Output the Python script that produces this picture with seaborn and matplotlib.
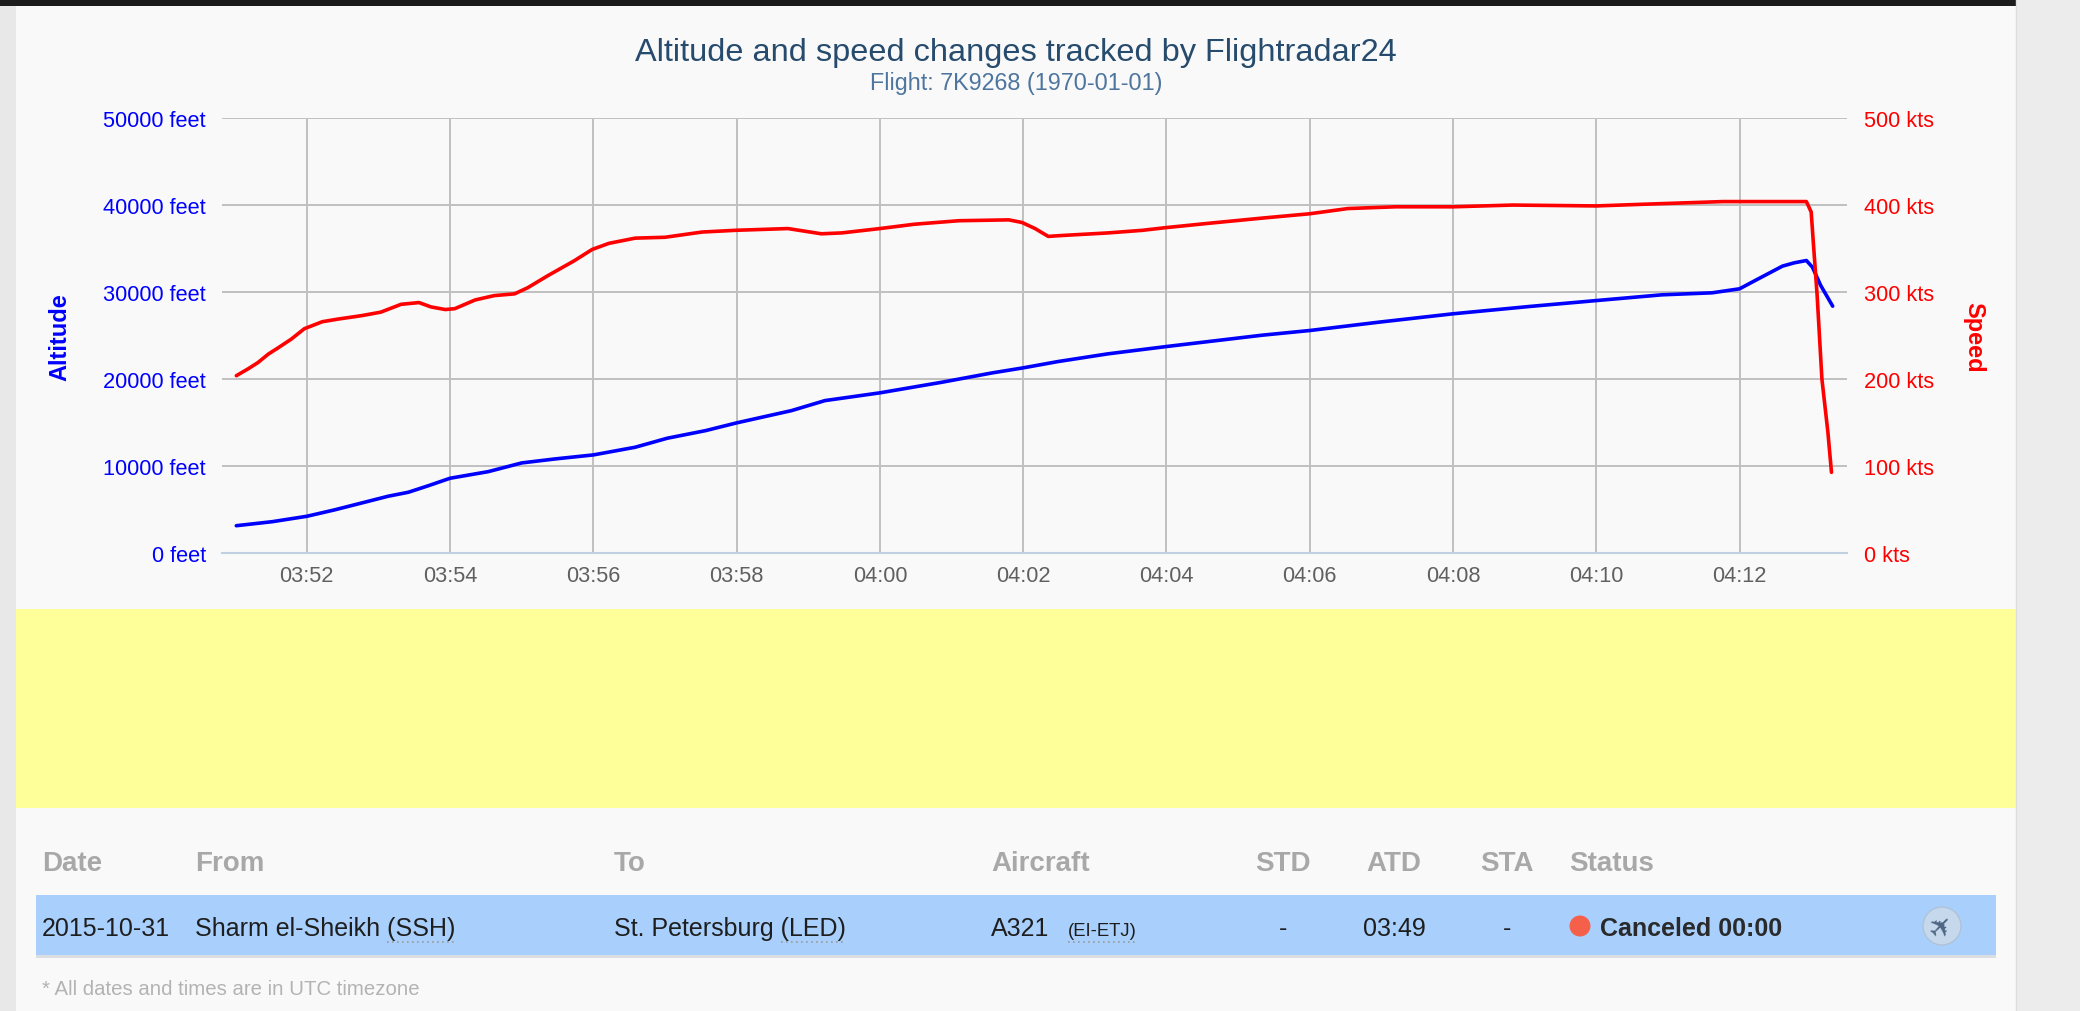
import matplotlib
matplotlib.use("Agg")
from matplotlib import pyplot as plt
from matplotlib import dates as mdates
from matplotlib.patches import Rectangle, Ellipse
from matplotlib.lines import Line2D
import pandas as pd
import seaborn as sns

### flight track (UTC, date as in the subtitle)
flight_date = "1970-01-01"

alt_times = ["03:51:01", "03:51:31", "03:52:00", "03:52:23", "03:52:46", "03:53:08",
             "03:53:25", "03:53:42", "03:54:00", "03:54:32", "03:55:00", "03:55:28",
             "03:56:00", "03:56:35", "03:57:02", "03:57:34", "03:58:00", "03:58:46",
             "03:59:14", "04:00:00", "04:00:52", "04:01:34", "04:02:00", "04:02:29",
             "04:03:11", "04:04:00", "04:05:20", "04:06:00", "04:06:58", "04:08:00",
             "04:09:04", "04:10:00", "04:10:55", "04:11:37", "04:12:00", "04:12:13",
             "04:12:36", "04:12:46", "04:12:56", "04:13:01", "04:13:08", "04:13:18"]
alt_feet = [3170, 3630, 4250, 4980, 5780, 6550,
            7010, 7770, 8620, 9380, 10380, 10840,
            11300, 12180, 13220, 14090, 14980, 16390,
            17540, 18430, 19650, 20720, 21300, 22020,
            22910, 23750, 25050, 25590, 26550, 27510,
            28350, 29030, 29690, 29920, 30380, 31330,
            32990, 33370, 33630, 32870, 30760, 28390]

spd_times = ["03:51:01", "03:51:11", "03:51:19", "03:51:28", "03:51:36", "03:51:47",
             "03:51:58", "03:52:13", "03:52:26", "03:52:46", "03:53:02", "03:53:19",
             "03:53:34", "03:53:44", "03:53:56", "03:54:04", "03:54:21", "03:54:37",
             "03:54:54", "03:55:05", "03:55:22", "03:55:44", "03:55:59", "03:56:13",
             "03:56:35", "03:57:00", "03:57:31", "03:57:59", "03:58:43", "03:59:11",
             "03:59:28", "04:00:00", "04:00:29", "04:01:06", "04:01:48", "04:01:59",
             "04:02:10", "04:02:21", "04:02:32", "04:03:11", "04:03:40", "04:03:59",
             "04:04:35", "04:05:20", "04:06:00", "04:06:32", "04:07:12", "04:08:00",
             "04:08:50", "04:10:00", "04:10:41", "04:11:46", "04:12:36", "04:12:56",
             "04:13:00", "04:13:02", "04:13:05", "04:13:09", "04:13:14", "04:13:17"]
spd_kts = [204, 212, 219, 229, 236, 246,
           258, 266, 269, 273, 277, 286,
           288, 283, 280, 281, 291, 296,
           298, 305, 319, 336, 349, 356,
           362, 363, 369, 371, 373, 367,
           368, 373, 378, 382, 383, 380,
           373, 364, 365, 368, 371, 374,
           379, 385, 390, 396, 398, 398,
           400, 399, 401, 404, 404, 404,
           392, 353, 296, 200, 139, 93]

alt_ticks = [0, 10000, 20000, 30000, 40000, 50000]
alt_tick_labels = [f"{v} feet" for v in alt_ticks]
spd_ticks = [0, 100, 200, 300, 400, 500]
spd_tick_labels = [f"{v} kts" for v in spd_ticks]

title = "Altitude and speed changes tracked by Flightradar24"
subtitle = "Flight: 7K9268 (1970-01-01)"

table_header = ["Date", "From", "To", "Aircraft", "STD", "ATD", "STA", "Status"]
row_date = "2015-10-31"
row_from = "Sharm el-Sheikh (SSH)"
row_to = "St. Petersburg (LED)"
row_aircraft = "A321"
row_reg = "(EI-ETJ)"
row_std = "-"
row_atd = "03:49"
row_sta = "-"
row_status = "Canceled 00:00"
footnote = "* All dates and times are in UTC timezone"

### style
sns.set_style("whitegrid")
plt.rcParams["font.family"] = ["Liberation Sans", "DejaVu Sans"]

W, H = 2080, 1012


def fx(x):
    return x / W


def fy(y):
    return 1 - y / H


fig = plt.figure(figsize=(W / 100, H / 100), dpi=100)
fig.patch.set_facecolor("#f9f9f9")

# page furniture
fig.add_artist(Rectangle((0, 0), fx(16), 1, transform=fig.transFigure, color="#e8e8e8", lw=0))
fig.add_artist(Rectangle((fx(2016), 0), 1 - fx(2016), 1, transform=fig.transFigure, color="#ececec", lw=0))
fig.add_artist(Line2D([fx(2016), fx(2016)], [0, 1], transform=fig.transFigure, color="#dddddd", lw=1))
fig.add_artist(Rectangle((0, fy(7)), fx(2016), 7 / H, transform=fig.transFigure, color="#1c1c1c", lw=0))
fig.add_artist(Rectangle((fx(16), fy(809)), (2016 - 16) / W, (809 - 610) / H,
                         transform=fig.transFigure, color="#ffff99", lw=0))
fig.add_artist(Rectangle((fx(36), fy(956)), (1996 - 36) / W, 60 / H,
                         transform=fig.transFigure, color="#a9d0fd", lw=0))
fig.add_artist(Rectangle((fx(36), fy(959)), (1996 - 36) / W, 3 / H,
                         transform=fig.transFigure, color="#dadde2", lw=0))

### chart
alt_t = pd.to_datetime([f"{flight_date} {t}" for t in alt_times])
spd_t = pd.to_datetime([f"{flight_date} {t}" for t in spd_times])

ax = fig.add_axes([fx(222), fy(554.3), (1847 - 222) / W, (554.3 - 119) / H])
ax.patch.set_alpha(0)
sns.lineplot(x=alt_t, y=alt_feet, ax=ax, color="#0000ff", linewidth=2.6,
             solid_joinstyle="round", solid_capstyle="round")

ax2 = ax.twinx()
sns.lineplot(x=spd_t, y=spd_kts, ax=ax2, color="#ff0000", linewidth=2.6,
             solid_joinstyle="round", solid_capstyle="round")

ax.set_xlim(pd.Timestamp(f"{flight_date} 03:50:49"), pd.Timestamp(f"{flight_date} 04:13:30"))
ax.set_ylim(0, 50000)
ax2.set_ylim(0, 500)

ax.set_yticks(alt_ticks)
ax.set_yticklabels(alt_tick_labels)
ax2.set_yticks(spd_ticks)
ax2.set_yticklabels(spd_tick_labels)
ax.xaxis.set_major_locator(mdates.MinuteLocator(byminute=range(0, 60, 2)))
ax.xaxis.set_major_formatter(mdates.DateFormatter("%H:%M"))

ax.tick_params(axis="y", length=0, pad=11.5, labelsize=15.7, labelcolor="#0000ff")
ax2.tick_params(axis="y", length=0, pad=12, labelsize=15.7, labelcolor="#ff0000")
ax.tick_params(axis="x", direction="out", length=4.5, width=1.4, color="#c0d0e0",
               pad=4, labelsize=15.7, labelcolor="#606060")

ax.grid(True, color="#c0c0c0", linewidth=1.4)
ax2.grid(False)
ax.set_axisbelow(True)
for a in (ax, ax2):
    for sp in a.spines.values():
        sp.set_visible(False)
    a.set_xlabel("")
    a.set_ylabel("")
ax.spines["bottom"].set_visible(True)
ax.spines["bottom"].set_color("#c0d0e0")
ax.spines["bottom"].set_linewidth(1.5)

fig.text(fx(60), fy(337), "Altitude", rotation=90, ha="center", va="center",
         color="#0000ff", fontsize=17, fontweight="bold")
fig.text(fx(1974), fy(337), "Speed", rotation=270, ha="center", va="center",
         color="#ff0000", fontsize=17, fontweight="bold")

fig.text(fx(1016), fy(60.5), title, ha="center", va="baseline", fontsize=23.4, color="#274b6d")
fig.text(fx(1016), fy(90), subtitle, ha="center", va="baseline", fontsize=16.8, color="#4d759e")

### flight table
header_x = [42, 195, 614, 991, 1255, 1366, 1480, 1569]
for label, x in zip(table_header, header_x):
    fig.text(fx(x), fy(871), label, fontsize=20, fontweight="bold", color="#a8a8a8", va="baseline")

row_kw = dict(fontsize=18, color="#1e1e1e", va="baseline")
fig.text(fx(42), fy(936), row_date, **row_kw)
t_from = fig.text(fx(195), fy(936), row_from, **row_kw)
t_to = fig.text(fx(614), fy(936), row_to, **row_kw)
fig.text(fx(991), fy(936), row_aircraft, **row_kw)
t_reg = fig.text(fx(1068), fy(936), row_reg, fontsize=13.3, color="#1e1e1e", va="baseline")
fig.text(fx(1283), fy(936), row_std, ha="center", **row_kw)
fig.text(fx(1363), fy(936), row_atd, **row_kw)
fig.text(fx(1507), fy(936), row_sta, ha="center", **row_kw)
fig.add_artist(Ellipse((fx(1580), fy(927)), 21 / W, 21 / H, transform=fig.transFigure,
                       fc="#f5604a", ec="none"))
fig.text(fx(1600), fy(936), row_status, fontsize=18, fontweight="bold", color="#2a2a2a", va="baseline")

fig.add_artist(Ellipse((fx(1942), fy(927)), 38 / W, 38 / H, transform=fig.transFigure,
                       fc="#c6d8ec", ec="#aec2d8", lw=1))
fig.text(fx(1942), fy(927), "\u2708", fontsize=21, color="#4d6784", rotation=45,
         ha="center", va="center", family="DejaVu Sans")

fig.text(fx(42), fy(995), footnote, fontsize=14.7, color="#b3b3b3", va="baseline")

# dotted underline under the airport / registration codes
renderer = fig.canvas.get_renderer()


def underline(txt, code):
    bb = txt.get_window_extent(renderer)
    probe = fig.text(0, 0, code, fontsize=txt.get_fontsize())
    w = probe.get_window_extent(renderer).width
    probe.remove()
    fig.add_artist(Line2D([(bb.x1 - w) / W, bb.x1 / W], [fy(943), fy(943)],
                          transform=fig.transFigure, color="#9a9a9a", lw=1.2, ls=(0, (1, 2))))


underline(t_from, "(SSH)")
underline(t_to, "(LED)")
underline(t_reg, row_reg)

fig.savefig("out.png", dpi=100, facecolor=fig.get_facecolor())
